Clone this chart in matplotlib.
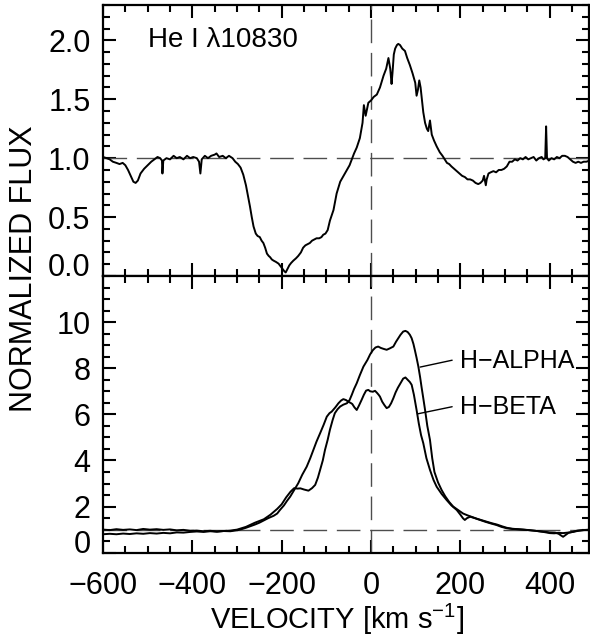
import matplotlib
matplotlib.use('Agg')
import matplotlib.pyplot as plt
from matplotlib.ticker import MultipleLocator

plt.rcParams['font.family'] = ['Liberation Sans', 'DejaVu Sans']
plt.rcParams['mathtext.fontset'] = 'custom'
plt.rcParams['mathtext.rm'] = 'Liberation Sans'
plt.rcParams['mathtext.it'] = 'Liberation Sans'
plt.rcParams['mathtext.bf'] = 'Liberation Sans'

# He I 10830 profile (velocity km/s, normalized flux)
he_v = [-600, -592, -585, -578, -570, -563, -556, -550, -544, -538, -532, -527, -522, -516,
        -508, -500, -492, -485, -478, -472, -468, -467, -465, -458, -450, -442, -435, -428,
        -420, -412, -405, -398, -390, -385, -382, -379, -372, -365, -358, -350, -346, -340,
        -332, -325, -318, -310, -304, -298, -292, -286, -280, -275, -271, -267, -263, -258,
        -254, -249, -245, -241, -237, -233, -229, -226, -222, -218, -213, -207, -202, -198,
        -194, -191, -187, -183, -179, -174, -168, -163, -157, -152, -147, -142, -137, -132,
        -127, -122, -116, -111, -107, -102, -97, -92, -84, -77, -69, -66, -60, -54, -48,
        -43, -38, -32, -25, -19, -16, -12, -6, 0, 6, 13, 20, 28, 34, 39, 43, 46, 48, 51, 54,
        58, 61, 65, 70, 76, 81, 87, 93, 99, 102, 105, 108, 111, 113, 117, 121, 125, 128, 132,
        134, 136, 141, 147, 154, 160, 165, 170, 175, 180, 186, 192, 198, 204, 210, 216, 222,
        228, 234, 240, 245, 250, 253, 255, 257, 259, 263, 268, 274, 280, 286, 292, 298, 304,
        310, 316, 322, 328, 334, 340, 346, 352, 358, 364, 370, 376, 382, 386, 390, 392, 394,
        398, 404, 410, 416, 422, 428, 434, 440, 446, 452, 458, 464, 470, 476, 482, 490]
he_flux = [1.01, 1.00, 0.99, 0.97, 0.96, 0.95, 0.96, 0.94, 0.90, 0.85, 0.80, 0.79, 0.81, 0.87,
           0.91, 0.94, 0.97, 0.99, 1.01, 1.00, 0.98, 0.87, 0.98, 1.00, 0.99, 1.02, 1.00, 1.01,
           0.99, 1.02, 1.00, 1.01, 1.00, 0.97, 0.87, 0.99, 1.02, 1.00, 1.02, 1.03, 1.04, 1.01,
           1.02, 1.00, 1.02, 1.00, 0.97, 0.95, 0.92, 0.86, 0.77, 0.67, 0.59, 0.50, 0.42, 0.36,
           0.34, 0.33, 0.30, 0.28, 0.24, 0.19, 0.17, 0.16, 0.14, 0.13, 0.12, 0.105, 0.08, 0.06,
           0.04, 0.03, 0.06, 0.09, 0.11, 0.13, 0.15, 0.17, 0.20, 0.24, 0.26, 0.27, 0.28, 0.30,
           0.31, 0.32, 0.32, 0.33, 0.35, 0.36, 0.39, 0.47, 0.56, 0.70, 0.80, 0.82, 0.86, 0.90,
           0.94, 0.99, 1.04, 1.09, 1.17, 1.30, 1.45, 1.36, 1.47, 1.49, 1.52, 1.54, 1.60, 1.70,
           1.76, 1.85, 1.76, 1.63, 1.72, 1.88, 1.93, 1.96, 1.97, 1.96, 1.93, 1.91, 1.85, 1.79,
           1.72, 1.64, 1.53, 1.58, 1.66, 1.60, 1.53, 1.39, 1.30, 1.25, 1.23, 1.32, 1.26, 1.20,
           1.15, 1.10, 1.05, 1.02, 0.99, 0.96, 0.95, 0.93, 0.91, 0.89, 0.87, 0.85, 0.84, 0.82,
           0.82, 0.81, 0.79, 0.78, 0.79, 0.81, 0.85, 0.81, 0.77, 0.82, 0.87, 0.88, 0.89, 0.88,
           0.90, 0.90, 0.91, 0.93, 0.97, 0.97, 0.99, 0.98, 1.00, 0.99, 1.01, 0.99, 1.00, 1.01,
           0.98, 1.00, 1.01, 0.99, 1.00, 1.27, 1.00, 0.98, 1.00, 0.99, 1.01, 1.00, 1.02, 1.02,
           1.01, 0.99, 0.97, 0.96, 0.97, 0.96, 0.97, 0.97, 0.98]

# H-alpha profile
ha_v = [-600, -585, -570, -555, -540, -525, -510, -495, -480, -465, -450, -435, -420, -405,
        -390, -375, -360, -345, -330, -315, -300, -280, -260, -240, -225, -210, -200, -190,
        -180, -172, -165, -158, -150, -140, -132, -125, -119, -114, -108, -103, -97, -92,
        -86, -81, -75, -69, -62, -54, -48, -43, -38, -32, -25, -17, -8, -2, 4, 10, 16, 22,
        28, 35, 42, 50, 56, 61, 66, 72, 77, 82, 87, 91, 95, 98, 102, 106, 110, 113, 117, 121,
        126, 132, 137, 142, 150, 158, 166, 175, 184, 195, 206, 216, 226, 236, 246, 258, 270,
        282, 294, 304, 316, 328, 341, 355, 368, 380, 392, 400, 410, 420, 430, 440, 452, 462,
        475, 490]
ha_flux = [1.00, 0.98, 1.02, 0.99, 1.01, 0.98, 1.03, 1.00, 1.02, 0.99, 1.01, 0.97, 0.99, 0.95,
           0.96, 0.93, 0.95, 0.92, 0.94, 0.96, 1.00, 1.12, 1.30, 1.45, 1.65, 1.90, 2.10, 2.40,
           2.65, 2.80, 2.78, 2.79, 2.74, 2.69, 2.80, 2.94, 3.25, 3.59, 4.00, 4.46, 4.90, 5.33,
           5.75, 6.05, 6.22, 6.34, 6.42, 6.48, 6.62, 6.85, 7.10, 7.35, 7.70, 8.07, 8.36, 8.60,
           8.78, 8.90, 8.94, 8.88, 8.84, 8.80, 8.86, 8.94, 9.15, 9.30, 9.45, 9.59, 9.62, 9.57,
           9.45, 9.30, 9.05, 8.80, 8.45, 8.07, 7.60, 7.20, 6.70, 6.19, 5.50, 4.89, 4.10, 3.50,
           3.05, 2.72, 2.45, 2.20, 2.00, 1.85, 1.70, 1.62, 1.55, 1.48, 1.42, 1.35, 1.28, 1.22,
           1.14, 1.08, 1.04, 1.02, 1.00, 0.97, 0.95, 0.92, 0.88, 0.85, 0.84, 0.86, 0.85, 0.87,
           0.90, 0.96, 0.98, 1.00]

# H-beta profile
hb_v = [-600, -585, -570, -555, -540, -525, -510, -495, -480, -465, -450, -435, -420, -405,
        -390, -375, -360, -345, -330, -315, -300, -290, -280, -270, -260, -250, -240, -230,
        -218, -210, -204, -195, -188, -181, -172, -163, -154, -144, -136, -129, -122, -114,
        -106, -99, -93, -88, -80, -73, -67, -62, -56, -51, -46, -42, -37, -32, -27, -21, -16,
        -11, -6, -2, 4, 9, 13, 17, 20, 25, 30, 35, 40, 45, 50, 55, 60, 66, 72, 77, 82, 87, 91,
        96, 102, 107, 112, 117, 124, 132, 140, 147, 158, 169, 180, 192, 200, 206, 210, 215,
        222, 232, 244, 256, 268, 281, 292, 304, 316, 328, 341, 355, 368, 380, 392, 400, 412,
        420, 426, 430, 435, 442, 453, 465, 475, 490]
hb_flux = [0.80, 0.82, 0.80, 0.83, 0.81, 0.84, 0.82, 0.85, 0.83, 0.86, 0.84, 0.88, 0.87, 0.90,
           0.92, 0.90, 0.93, 0.91, 0.94, 0.93, 0.97, 1.02, 1.08, 1.15, 1.22, 1.30, 1.40, 1.50,
           1.60, 1.70, 1.85, 2.05, 2.25, 2.43, 2.72, 3.01, 3.38, 3.73, 4.10, 4.46, 4.82, 5.18,
           5.55, 5.90, 6.05, 6.12, 6.30, 6.48, 6.60, 6.66, 6.62, 6.55, 6.50, 6.45, 6.30, 6.19,
           6.38, 6.63, 6.85, 7.03, 7.06, 7.00, 6.98, 7.02, 6.94, 6.85, 6.77, 6.55, 6.40, 6.27,
           6.32, 6.48, 6.70, 6.95, 7.15, 7.35, 7.55, 7.60, 7.50, 7.40, 7.28, 6.85, 6.19, 5.60,
           5.10, 4.75, 4.10, 3.59, 3.15, 2.86, 2.55, 2.29, 2.05, 1.85, 1.65, 1.49, 1.42, 1.50,
           1.56, 1.50, 1.42, 1.34, 1.27, 1.20, 1.12, 1.06, 1.03, 1.02, 1.00, 0.98, 0.95, 0.92,
           0.90, 0.88, 0.87, 0.82, 0.74, 0.69, 0.76, 0.86, 0.91, 0.95, 0.98, 0.99]

x_ticks = [-600, -400, -200, 0, 200, 400]
top_yticks = [0.0, 0.5, 1.0, 1.5, 2.0]
bot_yticks = [0, 2, 4, 6, 8, 10]

fig = plt.figure(figsize=(5.9, 6.42), dpi=100)
ax1 = fig.add_axes([0.1746, 0.5701, 0.8237, 0.4221])
ax2 = fig.add_axes([0.1746, 0.1391, 0.8237, 0.4310])

dash_kw = dict(color='0.3', lw=1.0, dashes=(17, 7))

for ax in (ax1, ax2):
    ax.set_xlim(-600, 488)
    ax.axhline(1.0, **dash_kw)
    ax.axvline(0, **dash_kw)
    ax.set_xticks(x_ticks)
    ax.xaxis.set_minor_locator(MultipleLocator(50))
    ax.tick_params(which='both', direction='in', top=True, right=True, width=1.5)
    ax.tick_params(which='major', length=9.5, labelsize=22)
    ax.tick_params(which='minor', length=5)
    ax.tick_params(axis='y', pad=9)
    ax.tick_params(axis='x', pad=13)
    for sp in ax.spines.values():
        sp.set_linewidth(1.6)

# top panel: He I
ax1.plot(he_v, he_flux, color='black', lw=1.4)
ax1.set_ylim(0, 2.3)
ax1.set_yticks(top_yticks)
ax1.set_yticklabels(['%.1f' % t for t in top_yticks])
ax1.yaxis.set_minor_locator(MultipleLocator(0.1))
ax1.tick_params(axis='x', labelbottom=False)
ax1.yaxis.get_major_ticks()[0].label1.set_verticalalignment('baseline')
ax1.text(-500, 2.0, 'He I \u03bb10830', fontsize=20, ha='left', va='center')

# bottom panel: Balmer lines
ax2.plot(ha_v, ha_flux, color='black', lw=1.4)
ax2.plot(hb_v, hb_flux, color='black', lw=1.4)
ax2.set_ylim(0, 12)
ax2.set_yticks(bot_yticks)
ax2.yaxis.set_minor_locator(MultipleLocator(0.5))
ax2.set_xticklabels(['%d' % t if t >= 0 else '\u2212%d' % -t for t in x_ticks])
ax2.yaxis.get_major_ticks()[0].label1.set_verticalalignment('baseline')

ax2.annotate('H\u2212ALPHA', xy=(110, 8.05), xytext=(200, 8.32), fontsize=18,
             ha='left', va='center',
             arrowprops=dict(arrowstyle='-', lw=1.0, color='black',
                             relpos=(0, 0.6), shrinkA=4, shrinkB=0))
ax2.annotate('H\u2212BETA', xy=(104, 6.02), xytext=(200, 6.30), fontsize=18,
             ha='left', va='center',
             arrowprops=dict(arrowstyle='-', lw=1.0, color='black',
                             relpos=(0, 0.6), shrinkA=4, shrinkB=0))

fig.text(0.041, 0.581, 'NORMALIZED FLUX', rotation=90, fontsize=22,
         ha='center', va='center')
fig.text(0.571, 0.021, 'VELOCITY [km s$^{\u22121}$]', fontsize=21,
         ha='center', va='baseline')

fig.savefig('out.png', dpi=100)
